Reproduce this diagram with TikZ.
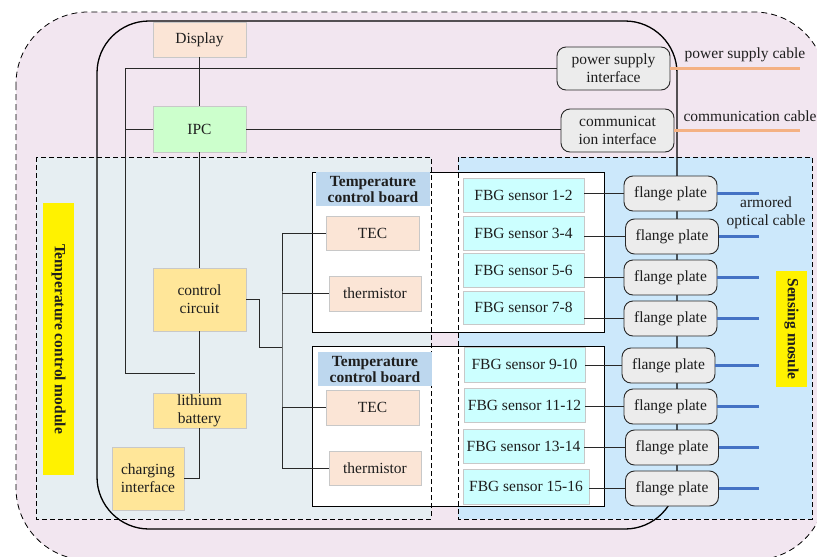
\documentclass[tikz,border=0pt]{standalone}
\usepackage{fontspec}
\setmainfont{Liberation Serif}
\usetikzlibrary{calc}
\definecolor{txt}{RGB}{30,30,30}
\definecolor{outerfill}{RGB}{242,230,240}
\definecolor{tcmfill}{RGB}{230,238,242}
\definecolor{senfill}{RGB}{204,232,251}
\definecolor{peach}{RGB}{251,229,214}
\definecolor{mint}{RGB}{204,255,204}
\definecolor{gold}{RGB}{255,230,153}
\definecolor{cyanbox}{RGB}{204,255,255}
\definecolor{greybox}{RGB}{236,236,236}
\definecolor{banner}{RGB}{189,215,238}
\definecolor{softedge}{RGB}{200,200,200}
\definecolor{orangecable}{RGB}{244,177,131}
\definecolor{bluecable}{RGB}{68,114,196}
\definecolor{wire}{RGB}{40,40,40}
\tikzset{
  every node/.style={font=\fontsize{15.5}{18}\selectfont, text=txt, inner sep=0pt, align=center},
  plainbox/.style={draw=softedge, line width=0.8pt, rectangle},
  disp/.style={plainbox, fill=peach},
  pcbox/.style={plainbox, fill=mint},
  power/.style={plainbox, fill=gold},
  fbg/.style={plainbox, fill=cyanbox},
  iface/.style={draw=wire, line width=0.9pt, fill=greybox, rounded corners=9pt},
  flange/.style={draw=wire, line width=0.9pt, fill=greybox, rounded corners=9pt},
  board/.style={draw=black, line width=0.9pt, fill=white},
  titlebar/.style={fill=banner, font=\bfseries\fontsize{15.5}{18}\selectfont},
  tag/.style={fill=yellow, font=\bfseries\fontsize{15.5}{18}\selectfont, rotate=-90},
  conn/.style={draw=wire, line width=0.8pt},
  moduleedge/.style={draw=black, line width=0.8pt, dash pattern=on 5pt off 3pt},
  ocable/.style={draw=orangecable, line width=2.6pt},
  bcable/.style={draw=bluecable, line width=2.8pt},
}
\begin{document}
\begin{tikzpicture}[x=1pt,y=-1pt]
\useasboundingbox (0,0) rectangle (817,557);
\begin{scope}
\clip (0,0) rectangle (817,557);
% housing outline
\draw[fill=outerfill, draw=black, line width=0.8pt, dash pattern=on 6pt off 4pt, rounded corners=72pt]
  (16,12) rectangle (826,560);
\end{scope}
% module backgrounds
\fill[tcmfill] (36,157) rectangle (431,519);
\fill[senfill] (458,157) rectangle (812,519);
% inner enclosure
\draw[black, line width=1.3pt, rounded corners=52pt] (97,21) rectangle (677,529);
% temperature control boards
\node[board, minimum width=292pt, minimum height=160pt] (board1) at (458,252) {};
\node[board, minimum width=292pt, minimum height=160pt] (board2) at (458,426) {};
% module dashed outlines
\draw[moduleedge] (36,157) rectangle (431,519);
\draw[moduleedge] (458,157) rectangle (812,519);
% module tags
\node[tag, minimum width=272pt, minimum height=31pt] (tcmtag) at (58.5,339) {Temperature control module};
\node[tag, minimum width=116pt, minimum height=31pt] (sentag) at (791.5,329) {Sensing mosule};
% board titles
\node[titlebar, minimum width=114pt, minimum height=34pt] (title1) at (373,189) {Temperature\\[-2pt]control board};
\node[titlebar, minimum width=114pt, minimum height=34pt] (title2) at (375,369) {Temperature\\[-2pt]control board};
% left column
\node[disp, minimum width=93pt, minimum height=35pt] (disp) at (199.5,39.5) {Display};
\node[pcbox, minimum width=93pt, minimum height=46pt] (ipc) at (199.5,129) {IPC};
\node[power, minimum width=93pt, minimum height=63pt] (ctrl) at (199.5,299.5) {control\\circuit};
\node[power, minimum width=93pt, minimum height=35pt] (batt) at (199.5,410.5) {lithium\\battery};
\node[power, minimum width=72pt, minimum height=63pt] (charge) at (148,478.5) {charging\\interface};
% interfaces
\node[iface, minimum width=113pt, minimum height=43pt] (psi) at (613.5,68.5) {power supply\\interface};
\node[iface, minimum width=113pt, minimum height=43pt] (comm) at (617.5,130.5) {communicat\\ion interface};
% board components
\node[disp, minimum width=93pt, minimum height=34pt] (tec1) at (372.5,233) {TEC};
\node[disp, minimum width=92pt, minimum height=35pt] (th1) at (375,293.5) {thermistor};
\node[disp, minimum width=93pt, minimum height=35pt] (tec2) at (372.5,407.5) {TEC};
\node[disp, minimum width=92pt, minimum height=34pt] (th2) at (375,468) {thermistor};
% FBG sensors
\node[fbg, minimum width=121pt, minimum height=34pt] (s1) at (523.5,195) {FBG sensor 1-2};
\node[fbg, minimum width=121pt, minimum height=34pt] (s2) at (523.5,233) {FBG sensor 3-4};
\node[fbg, minimum width=121pt, minimum height=34pt] (s3) at (523.5,270) {FBG sensor 5-6};
\node[fbg, minimum width=121pt, minimum height=33pt] (s4) at (523.5,307.5) {FBG sensor 7-8};
\node[fbg, minimum width=121pt, minimum height=35pt] (s5) at (524.5,364.5) {FBG sensor 9-10};
\node[fbg, minimum width=121pt, minimum height=34pt] (s6) at (524.5,405) {FBG sensor 11-12};
\node[fbg, minimum width=121pt, minimum height=34pt] (s7) at (523.5,446) {FBG sensor 13-14};
\node[fbg, minimum width=126pt, minimum height=35pt] (s8) at (526,486.5) {FBG sensor 15-16};
% flange plates
\node[flange, minimum width=93pt, minimum height=35pt] (f1) at (670.5,193.5) {flange plate};
\node[flange, minimum width=93pt, minimum height=35pt] (f2) at (672,236.5) {flange plate};
\node[flange, minimum width=93pt, minimum height=35pt] (f3) at (670.5,277.5) {flange plate};
\node[flange, minimum width=93pt, minimum height=35pt] (f4) at (670.5,318.5) {flange plate};
\node[flange, minimum width=93pt, minimum height=35pt] (f5) at (668.5,365.5) {flange plate};
\node[flange, minimum width=93pt, minimum height=35pt] (f6) at (670.5,406.5) {flange plate};
\node[flange, minimum width=93pt, minimum height=35pt] (f7) at (672,447.5) {flange plate};
\node[flange, minimum width=93pt, minimum height=35pt] (f8) at (672,488.5) {flange plate};
% free ends and bends
\coordinate (loopx) at (125,69);
\coordinate (loopend) at (195,373);
\coordinate (bus) at (282,347);
\coordinate (cableend) at (800,0);
\coordinate (fibreend) at (759,0);
% wiring of the control side
\draw[conn] (disp) -- (ipc);
\draw[conn] (ipc) -- (ctrl);
\draw[conn] (ctrl) -- (batt);
\draw[conn] (batt.south) |- (charge.east);
\draw[conn] (psi.west) -- (psi.west -| loopx) |- (loopend);
\draw[conn] (ipc.west) -- (ipc.west -| loopx);
\draw[conn] (ipc.east) -- (ipc.east -| comm.west);
\draw[conn] (ctrl.east) -- ++(13,0) |- (bus);
\draw[conn] (tec1.west) -| (bus) |- (th2.west);
\draw[conn] (th1.west) -- (th1.west -| bus);
\draw[conn] (tec2.west) -- (tec2.west -| bus);
% sensor to flange links
\foreach \i in {1,...,8}{
  \draw[conn] (f\i.west -| s\i.east) -- (f\i.west);
  \draw[bcable] (f\i.east) -- (f\i.east -| fibreend);
}
% external cables
\draw[ocable] (psi.east) -- (psi.east -| cableend);
\draw[ocable] (comm.east) -- (comm.east -| cableend);
\node (pslabel) at (745,55) {power supply cable};
\node (cmlabel) at (750,116) {communication cable};
\node (arlabel) at (766,213) {armored\\optical cable};
\end{tikzpicture}
\end{document}
